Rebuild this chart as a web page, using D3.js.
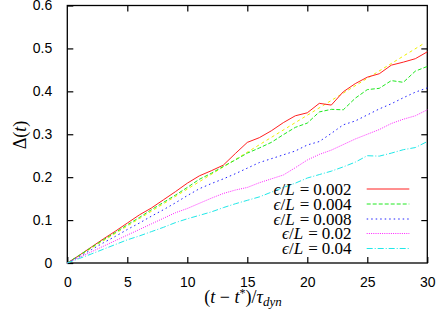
<!DOCTYPE html>
<html>
<head>
<meta charset="utf-8">
<script src="https://cdn.jsdelivr.net/npm/d3@7"></script>
<style>
  body { margin: 0; background: #fff; }
  svg { display: block; }
  .tick text { font-family: "Liberation Sans", Arial, sans-serif; font-size: 14px; }
  .serif { font-family: "Liberation Serif", "DejaVu Serif", serif; }
</style>
</head>
<body>
<div id="graphArea"></div>
<script>
const width = 437, height = 315;
const margin = {left: 67.3, right: 9.7, top: 5.5, bottom: 52};

// time axis, (t - t*)/tau_dyn
const tVals = [0,1,2,3,4,5,6,7,8,9,10,11,12,13,14,15,16,17,18,19,20,21,22,23,24,25,26,27,28,29,30];

// Delta(t) for each eps/L
const red = [0,0.018,0.037,0.056,0.074,0.093,0.112,0.128,0.147,0.166,0.186,0.203,0.215,0.228,0.255,0.281,0.292,0.308,0.327,0.343,0.350,0.372,0.368,0.399,0.418,0.433,0.441,0.461,0.468,0.476,0.492];
const green = [0,0.018,0.036,0.054,0.071,0.089,0.106,0.124,0.141,0.158,0.176,0.195,0.209,0.225,0.240,0.256,0.268,0.281,0.299,0.316,0.326,0.352,0.358,0.357,0.384,0.404,0.407,0.425,0.421,0.447,0.458];
const blue = [0,0.015,0.031,0.047,0.062,0.078,0.093,0.109,0.124,0.140,0.157,0.173,0.185,0.196,0.208,0.221,0.234,0.243,0.252,0.261,0.275,0.283,0.302,0.322,0.331,0.345,0.359,0.371,0.385,0.398,0.408];
const magenta = [0,0.013,0.026,0.039,0.052,0.065,0.078,0.091,0.104,0.117,0.127,0.139,0.151,0.162,0.170,0.176,0.187,0.196,0.205,0.222,0.240,0.253,0.263,0.276,0.289,0.300,0.311,0.325,0.335,0.343,0.357];
const cyan = [0,0.0105,0.021,0.032,0.043,0.054,0.063,0.073,0.083,0.094,0.103,0.111,0.119,0.129,0.138,0.146,0.154,0.165,0.176,0.186,0.198,0.206,0.214,0.224,0.235,0.250,0.249,0.256,0.264,0.269,0.283];
// straight reference line
const refT = [0, 29.8];
const refV = [0, 0.513];

const labels = ["0.002", "0.004", "0.008", "0.02", "0.04"];
const colors = ["#ff2020", "#20e820", "#2020ff", "#ff20ff", "#20e8e8"];
const dashes = [null, "4,2", "1.5,3", "1,1.2", "6,2,1,2"];

const xTicks = [0,5,10,15,20,25,30];
const yTicks = [0,0.1,0.2,0.3,0.4,0.5,0.6];

const graphWidth = width - margin.left - margin.right;
const graphHeight = height - margin.top - margin.bottom;

const svg = d3.select("#graphArea").append("svg")
  .attr("width", width).attr("height", height);
const g = svg.append("g")
  .attr("transform", "translate(" + margin.left + "," + margin.top + ")");

const x = d3.scaleLinear().domain([0, 30]).range([0, graphWidth]);
const y = d3.scaleLinear().domain([0, 0.6]).range([graphHeight, 0]);

// axes with inward ticks on all four sides
g.append("g").attr("transform", "translate(0," + graphHeight + ")")
  .call(d3.axisBottom(x).tickValues(xTicks).tickSizeInner(-6).tickSizeOuter(0).tickPadding(14).tickFormat(d3.format("d")))
  .call(a => a.select(".domain").remove());
g.append("g")
  .call(d3.axisTop(x).tickValues(xTicks.slice(1, -1)).tickSizeInner(-6).tickSizeOuter(0).tickFormat(""))
  .call(a => a.select(".domain").remove());
g.append("g")
  .call(d3.axisLeft(y).tickValues(yTicks).tickSizeInner(-6).tickSizeOuter(0).tickPadding(15)
    .tickFormat(d => d === 0 ? "0" : d3.format(".1f")(d)))
  .call(a => a.select(".domain").remove());
g.append("g").attr("transform", "translate(" + graphWidth + ",0)")
  .call(d3.axisRight(y).tickValues(yTicks.slice(1, -1)).tickSizeInner(-6).tickSizeOuter(0).tickFormat(""))
  .call(a => a.select(".domain").remove());
g.selectAll(".tick line").attr("stroke", "#000").attr("stroke-width", 1.2);
g.selectAll(".tick text").attr("fill", "#000");

g.append("rect").attr("x", 0).attr("y", 0)
  .attr("width", graphWidth).attr("height", graphHeight)
  .attr("fill", "none").attr("stroke", "#000").attr("stroke-width", 1.3);

const line = d3.line().x(d => x(d[0])).y(d => y(d[1]));
const series = [red, green, blue, magenta, cyan];

g.append("path")
  .attr("d", line(refT.map((t, i) => [t, refV[i]])))
  .attr("fill", "none").attr("stroke", "#f0f000").attr("stroke-width", 1)
  .attr("stroke-dasharray", "3,3");

series.forEach((s, i) => {
  g.append("path")
    .attr("d", line(tVals.map((t, j) => [t, s[j]])))
    .attr("fill", "none").attr("stroke", colors[i]).attr("stroke-width", 1)
    .attr("stroke-dasharray", dashes[i]);
});

// legend
const legY = [189, 204, 219, 233.5, 248.5];
labels.forEach((lab, i) => {
  const t = svg.append("text").attr("class", "serif")
    .attr("x", 351.5).attr("y", legY[i] + 5.5)
    .attr("text-anchor", "end").attr("font-size", 17);
  t.append("tspan").attr("font-style", "italic").text("\u03F5");
  t.append("tspan").text("/");
  t.append("tspan").attr("font-style", "italic").text("L");
  t.append("tspan").attr("dx", 5).text("=");
  t.append("tspan").attr("dx", 4).text(lab);
  svg.append("line")
    .attr("x1", 366.7).attr("x2", 409.3)
    .attr("y1", legY[i]).attr("y2", legY[i])
    .attr("stroke", colors[i]).attr("stroke-width", 1)
    .attr("stroke-dasharray", dashes[i]);
});

// axis titles
const yl = svg.append("text").attr("class", "serif")
  .attr("transform", "translate(26,135) rotate(-90)")
  .attr("text-anchor", "middle").attr("font-size", 18);
yl.append("tspan").text("\u0394(");
yl.append("tspan").attr("font-style", "italic").text("t");
yl.append("tspan").text(")");

const xl = svg.append("text").attr("class", "serif")
  .attr("x", 243).attr("y", 303)
  .attr("text-anchor", "middle").attr("font-size", 18);
xl.append("tspan").text("(");
xl.append("tspan").attr("font-style", "italic").text("t");
xl.append("tspan").text(" \u2212 ");
xl.append("tspan").attr("font-style", "italic").text("t");
xl.append("tspan").attr("dy", -6).attr("font-size", 12).text("*");
xl.append("tspan").attr("dy", 6).text(")/");
xl.append("tspan").attr("font-style", "italic").text("\u03C4");
xl.append("tspan").attr("font-style", "italic").attr("dy", 3).attr("font-size", 13).text("dyn");
</script>
</body>
</html>
